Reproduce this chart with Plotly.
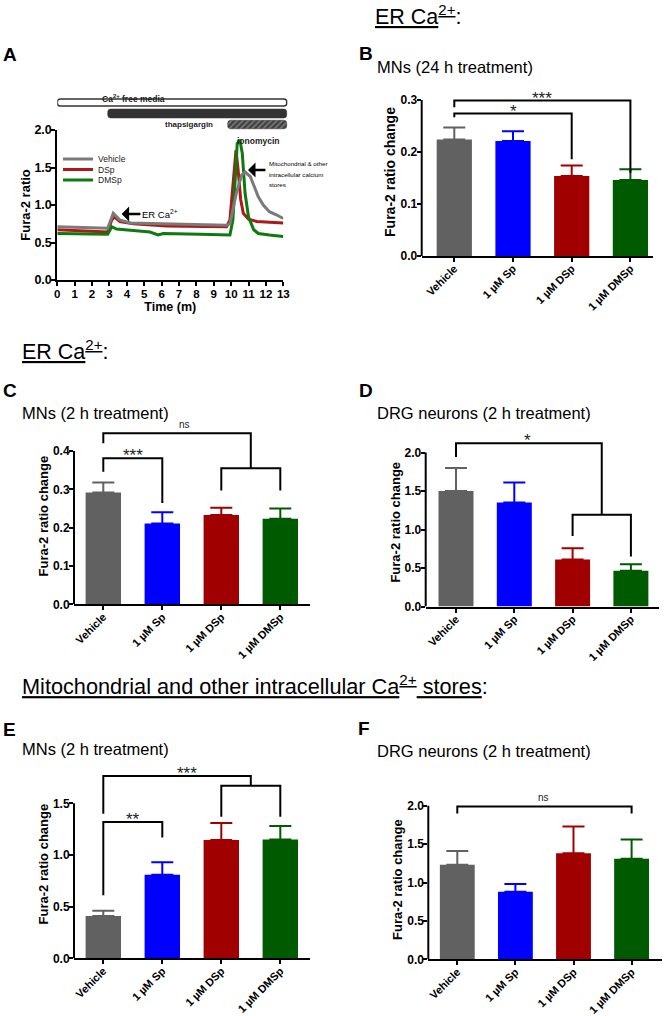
import plotly.graph_objects as go

W, H = 664, 1016
FONT = "Arial, 'Liberation Sans', sans-serif"

# ---------------- data ----------------
categories = ["Vehicle", "1 µM Sp", "1 µM DSp", "1 µM DMSp"]
bar_colors = ["#616161", "#0000ff", "#a00000", "#005a00"]

# Panel A: Fura-2 ratio traces (time in minutes)
t_vehicle = [0, 2.9, 3.22, 3.6, 4.2, 6.3, 9.74, 9.93, 10.1, 10.3, 10.6, 10.8, 11.1, 11.3, 11.56, 11.85, 12.2, 12.6, 13]
r_vehicle = [0.71, 0.69, 0.89, 0.80, 0.76, 0.75, 0.73, 0.75, 0.93, 1.16, 1.40, 1.44, 1.38, 1.27, 1.11, 1.00, 0.91, 0.87, 0.82]
t_dsp = [0, 2.9, 3.13, 3.3, 3.6, 4.37, 6.3, 8.2, 9.74, 9.93, 10.07, 10.2, 10.28, 10.4, 10.55, 10.7, 11.0, 11.47, 13]
r_dsp = [0.67, 0.64, 0.80, 0.84, 0.78, 0.75, 0.72, 0.71, 0.71, 0.80, 1.16, 1.60, 1.73, 1.47, 1.07, 0.89, 0.81, 0.78, 0.76]
t_dmsp = [0, 2.9, 3.13, 3.4, 4.37, 5.33, 5.8, 6.1, 8.2, 9.93, 10.1, 10.22, 10.35, 10.5, 10.64, 10.8, 11.0, 11.3, 11.56, 12.2, 13]
r_dmsp = [0.62, 0.61, 0.71, 0.68, 0.66, 0.64, 0.60, 0.62, 0.61, 0.60, 0.80, 1.38, 1.82, 1.87, 1.69, 1.16, 0.84, 0.67, 0.62, 0.60, 0.58]
trace_names = ["Vehicle", "DSp", "DMSp"]
trace_colors = ["#7a7a7a", "#b01818", "#0d7a0d"]

# Panel A treatment periods
treat_names = ["Ca<sup>2+</sup> free media", "thapsigargin", "ionomycin"]
treat_start = [0, 2.9, 9.8]
treat_end = [13.2, 13.2, 13.2]

# Panel B: MNs 24 h (ER Ca2+)
b_mean = [0.224, 0.221, 0.154, 0.146]
b_err = [0.247, 0.240, 0.174, 0.167]
# Panel C: MNs 2 h (ER Ca2+)
c_mean = [0.292, 0.211, 0.233, 0.223]
c_err = [0.318, 0.240, 0.252, 0.250]
# Panel D: DRG 2 h (ER Ca2+)
d_mean = [1.50, 1.35, 0.61, 0.465]
d_err = [1.80, 1.61, 0.755, 0.55]
# Panel E: MNs 2 h (mito stores)
e_mean = [0.41, 0.81, 1.145, 1.15]
e_err = [0.46, 0.93, 1.31, 1.28]
# Panel F: DRG 2 h (mito stores)
f_mean = [1.23, 0.88, 1.38, 1.31]
f_err = [1.41, 0.98, 1.73, 1.56]

# significance brackets: (x_left, x_right, height, left_leg_end, right_leg_end, label, label_x)
b_brackets = [(0, 3, 0.299, 0.286, 0.160, "***", 1.5), (0, 2, 0.274, 0.267, 0.186, "*", 1.0)]
c_brackets = [(0, 1, 0.381, 0.346, 0.264, "***", 0.5), (0, 2.5, 0.446, 0.420, 0.355, "ns", 1.38),
              (2, 3, 0.355, 0.297, 0.297, "", 2.5)]
d_brackets = [(0, 2.5, 2.12, 1.94, 1.19, "*", 1.23), (2, 3, 1.19, 0.915, 0.65, "", 2.5)]
e_brackets = [(0, 2.5, 1.765, 1.40, 1.67, "***", 1.42), (2, 3, 1.67, 1.37, 1.37, "", 2.5),
              (0, 1, 1.32, 0.61, 1.17, "**", 0.5)]
f_brackets = [(0, 3, 1.99, 1.90, 1.90, "ns", 1.49)]


def px(x):
    return x / W


def py(y):
    return 1 - y / H


fig = go.Figure()
shapes = []
annots = []

# ---------------- Panel A ----------------
A_left, A_right, A_top, A_bot = 57.3, 283.3, 130, 280
A_xmax = 13
a_scale = (A_right - A_left) / A_xmax
for t, r, name, col, lg in [(t_dsp, r_dsp, "DSp", trace_colors[1], "legend2"),
                            (t_dmsp, r_dmsp, "DMSp", trace_colors[2], "legend3"),
                            (t_vehicle, r_vehicle, "Vehicle", trace_colors[0], "legend")]:
    fig.add_trace(go.Scatter(x=t, y=r, mode="lines", name=name, line=dict(color=col, width=3),
                             xaxis="x", yaxis="y", legend=lg, showlegend=True))

axis_common = dict(showgrid=False, zeroline=False, ticks="outside", ticklen=4, tickwidth=1.5,
                   tickcolor="black", linecolor="black", linewidth=2, automargin=False)
tickfont_y = dict(family=FONT, size=12, color="black", weight="bold")
tickfont_x = dict(family=FONT, size=11, color="black", weight="bold")

layout = dict(
    xaxis=dict(domain=[px(A_left), px(A_right)], range=[0, A_xmax], tickvals=list(range(0, 14)),
               showline=True, tickfont=dict(family=FONT, size=11.5, color="black", weight="bold"),
               ticklabelstandoff=-2,
               title=dict(text="Time (m)", standoff=2,
                          font=dict(family=FONT, size=12.5, weight="bold", color="black")),
               anchor="y", **axis_common),
    yaxis=dict(domain=[py(A_bot), py(A_top)], range=[0, 2], tickvals=[0, 0.5, 1, 1.5, 2], tickformat=".1f",
               showline=True, tickfont=dict(family=FONT, size=12.5, color="black", weight="bold"),
               ticklabelstandoff=-3,
               title=dict(text="Fura-2 ratio", standoff=1,
                          font=dict(family=FONT, size=13, weight="bold", color="black")),
               anchor="x", **axis_common),
)

# timeline subplot
TL_top = 97
tl_xmax = 13.25
layout["xaxis2"] = dict(domain=[px(A_left), px(A_left + tl_xmax * a_scale)], range=[0, tl_xmax],
                        visible=False, anchor="y2", automargin=False)
layout["yaxis2"] = dict(domain=[py(A_top), py(TL_top)], range=[-0.5, 2.5], visible=False, anchor="x2",
                        automargin=False)
tl_rows = [2, 1, 0]
tl_width = [0.64, 0.82, 0.78]
tl_markers = [dict(color="white", line=dict(color="#333", width=1.5)),
              dict(color="#333333", line=dict(color="#333", width=0.5)),
              dict(color="#444444", line=dict(color="#333", width=0.5),
                   pattern=dict(shape="/", fgcolor="#c8c8c8", bgcolor="#404040", size=4, solidity=0.35))]
for i in range(3):
    fig.add_trace(go.Bar(y=[tl_rows[i]], x=[treat_end[i] - treat_start[i]], base=[treat_start[i]],
                         orientation="h", width=tl_width[i], marker=tl_markers[i], marker_cornerradius=3,
                         xaxis="x2", yaxis="y2", showlegend=False, hoverinfo="skip"))
annots.append(dict(text="<b>" + treat_names[0] + "</b>", x=4.4, y=py(91), xref="x2", yref="paper",
                   showarrow=False, font=dict(family=FONT, size=8.5, color="#222")))
annots.append(dict(text="<b>" + treat_names[1] + "</b>", x=7.6, y=0, xref="x2", yref="y2",
                   showarrow=False, font=dict(family=FONT, size=8, color="#222")))
annots.append(dict(text="<b>" + treat_names[2] + "</b>", x=11.55, y=py(134), xref="x2", yref="paper",
                   showarrow=False, font=dict(family=FONT, size=8.5, color="#222")))

# legends for panel A
leg_common = dict(font=dict(family=FONT, size=8.5, color="#222"), bgcolor="rgba(0,0,0,0)",
                  xanchor="left", yanchor="middle", borderwidth=0, itemwidth=30)
layout["legend"] = dict(x=px(58), y=py(159), **leg_common)
layout["legend2"] = dict(x=px(58), y=py(169.5), **leg_common)
layout["legend3"] = dict(x=px(58), y=py(180), **leg_common)

# arrows in panel A
annots.append(dict(x=3.70, y=0.88, ax=4.78, ay=0.88, axref="x", ayref="y", xref="x", yref="y",
                   text="ER Ca<sup>2+</sup>", xanchor="left", showarrow=True, arrowhead=1, arrowsize=1,
                   arrowwidth=2.5, arrowcolor="black", font=dict(family=FONT, size=9.5, color="black")))
annots.append(dict(x=10.97, y=1.467, ax=12.06, ay=1.467, axref="x", ayref="y", xref="x", yref="y",
                   text="", showarrow=True, arrowhead=1, arrowsize=1, arrowwidth=2.5, arrowcolor="black"))
mito_lines = ["Mitochondrial &amp; other", "intracellular calcium", "stores"]
for k, ln in enumerate(mito_lines):
    annots.append(dict(text=ln, x=px(267), y=py(164 + 10 * k), xref="paper", yref="paper", xanchor="left",
                       yanchor="middle", showarrow=False, font=dict(family=FONT, size=6.2, color="black")))


# ---------------- bar panels ----------------
def bar_panel(n, means, errs, left, right, zero, cat0, step, ppu, top_px, top_tick, dtick, brackets,
              ytitle_size=13):
    xa, ya = "x%d" % n, "y%d" % n
    pos = list(range(len(categories)))
    fig.add_trace(go.Bar(x=pos, y=means, marker=dict(color=bar_colors, line=dict(width=0)), width=0.6,
                         xaxis=xa, yaxis=ya, showlegend=False, hoverinfo="skip"))
    # one upper error bar per category, coloured like its bar
    for i in pos:
        fig.add_trace(go.Scatter(x=[pos[i]], y=[means[i]], mode="markers", marker=dict(size=1, opacity=0),
                                 error_y=dict(type="data", symmetric=False, array=[errs[i] - means[i]],
                                              arrayminus=[0], color=bar_colors[i], thickness=2, width=11),
                                 xaxis=xa, yaxis=ya, showlegend=False, hoverinfo="skip"))
    ntick = int(round(top_tick / dtick))
    tv = [round(k * dtick, 3) for k in range(ntick + 1)]
    layout["xaxis%d" % n] = dict(domain=[px(left), px(right)],
                                 range=[(left - cat0) / step, (right - cat0) / step],
                                 tickvals=pos, ticktext=categories, tickangle=-45, showline=True,
                                 ticklabelstandoff=-4,
                                 tickfont=tickfont_x, anchor=ya, **axis_common)
    layout["yaxis%d" % n] = dict(domain=[py(zero), py(top_px)], range=[0, (zero - top_px) / ppu],
                                 tickvals=tv, tickformat=".1f", showline=False, tickfont=tickfont_y,
                                 ticklabelstandoff=-3,
                                 title=dict(text="Fura-2 ratio change", standoff=1,
                                            font=dict(family=FONT, size=ytitle_size, weight="bold",
                                                      color="black")),
                                 anchor=xa, **axis_common)
    shapes.append(dict(type="line", xref="paper", yref=ya, x0=px(left), x1=px(left), y0=0, y1=top_tick,
                       line=dict(color="black", width=2)))
    for (xl, xr, h, yl, yr, lab, lx) in brackets:
        shapes.append(dict(type="path", xref=xa, yref=ya,
                           path="M %g,%g L %g,%g L %g,%g L %g,%g" % (xl, yl, xl, h, xr, h, xr, yr),
                           line=dict(color="black", width=2)))
        if lab:
            star = lab.startswith("*")
            annots.append(dict(text=lab, x=lx, y=h, xref=xa, yref=ya, showarrow=False, yanchor="bottom",
                               yshift=-9 if star else 1,
                               font=dict(family=FONT, size=17 if star else 10, color="#222")))


bar_panel(3, b_mean, b_err, 421.7, 653, 256, 454.3, 58.7, 520, 88, 0.3, 0.1, b_brackets, ytitle_size=14)
bar_panel(4, c_mean, c_err, 74, 310, 604.3, 103.3, 59, 383.3, 428, 0.4, 0.1, c_brackets)
bar_panel(5, d_mean, d_err, 425.7, 659, 606.5, 456, 58.3, 77, 438, 2.0, 0.5, d_brackets)
bar_panel(6, e_mean, e_err, 74, 310, 958.3, 103.3, 59, 103.3, 770, 1.5, 0.5, e_brackets)
bar_panel(7, f_mean, f_err, 428.3, 662, 959.3, 457.3, 58.1, 76.8, 800, 2.0, 0.5, f_brackets)

# ---------------- text ----------------
def txt(s, x, y, size, bold=False, anchor="left"):
    annots.append(dict(text=("<b>%s</b>" % s) if bold else s, x=px(x), y=py(y), xref="paper", yref="paper",
                       showarrow=False, xanchor=anchor, yanchor="middle",
                       font=dict(family=FONT, size=size, color="black")))


for lab, x, y in [("A", 1, 54.5), ("B", 357, 53), ("C", 1, 390), ("D", 357, 390), ("E", 1, 729), ("F", 356, 728)]:
    txt(lab, x, y, 19, bold=True)

txt("<u>ER Ca<sup>2+</sup></u>:", 373, 15, 21.5)
txt("<u>ER Ca<sup>2+</sup></u>:", 20, 350, 21.5)
txt("<u>Mitochondrial and other intracellular Ca<sup>2+</sup> stores</u>:", 20, 684.5, 21.7)

txt("MNs (24 h treatment)", 375, 67, 16.5)
txt("MNs (2 h treatment)", 20, 413, 16.5)
txt("DRG neurons (2 h treatment)", 375, 413, 16.5)
txt("MNs (2 h treatment)", 20, 749, 16.5)
txt("DRG neurons (2 h treatment)", 375, 750.5, 16.5)

layout.update(dict(width=W, height=H, margin=dict(l=0, r=0, t=0, b=0, pad=0, autoexpand=False),
                   plot_bgcolor="white", paper_bgcolor="white", barmode="overlay", shapes=shapes,
                   annotations=annots, font=dict(family=FONT, color="black")))
fig.update_layout(**layout)
fig.write_html("out.html", config={"displayModeBar": False},
               post_script="document.documentElement.style.margin='0';document.body.style.margin='0';"
                           "document.body.style.overflow='hidden';")
